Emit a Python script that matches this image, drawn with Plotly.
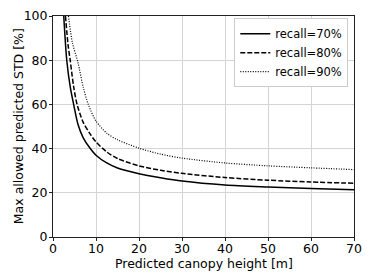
import plotly.graph_objects as go

# Data
x70 = [2.5, 3.2, 4.0, 4.8, 5.8, 7.0, 8.5, 10, 12.5, 15, 20, 25, 30, 40, 50, 60, 70]
y70 = [100, 80, 68, 60, 51, 45, 40.5, 37, 33.5, 31.2, 28.6, 26.8, 25.3, 23.5, 22.6, 21.9, 21.4]

x80 = [2.9, 3.5, 4.0, 4.8, 5.6, 7.0, 8.5, 10, 12.5, 15, 20, 25, 30, 40, 50, 60, 70]
y80 = [100, 87, 80, 68, 60, 52, 47, 43, 38.5, 35.5, 32.2, 30.2, 28.8, 26.9, 25.7, 24.9, 24.3]

x90 = [3.6, 4.5, 5.8, 7.0, 8.2, 10, 12.5, 15, 20, 25, 30, 40, 50, 60, 70]
y90 = [100, 88, 79, 68, 60, 52.5, 47, 44, 40.2, 37.5, 35.7, 33.5, 32.2, 31.3, 30.5]

names = ["recall=70%", "recall=80%", "recall=90%"]
x_ticks = [0, 10, 20, 30, 40, 50, 60, 70]
y_ticks = [0, 20, 40, 60, 80, 100]
x_title = "Predicted canopy height [m]"
y_title = "Max allowed predicted STD [%]"

FONT = "DejaVu Sans"

fig = go.Figure()
fig.add_trace(go.Scatter(x=x70, y=y70, mode="lines", name=names[0],
                         line=dict(color="black", width=1.5, dash="solid", shape="spline", smoothing=0.8)))
fig.add_trace(go.Scatter(x=x80, y=y80, mode="lines", name=names[1],
                         line=dict(color="black", width=1.5, dash="5px,2px", shape="spline", smoothing=0.8)))
fig.add_trace(go.Scatter(x=x90, y=y90, mode="lines", name=names[2],
                         line=dict(color="black", width=1.2, dash="1px,1.5px", shape="spline", smoothing=0.8)))

axis_common = dict(
    showgrid=True, gridcolor="#d4d4d4", gridwidth=1,
    showline=True, linecolor="#222", linewidth=1, mirror=True,
    ticks="outside", ticklen=3, tickcolor="#222", zeroline=False,
    tickfont=dict(family=FONT, size=12.5, color="black"),
    automargin=False,
)

# The page body adds an 8px offset, so the figure is 8px smaller and margins compensate
fig.update_layout(
    width=366, height=272,
    margin=dict(l=45, r=20, t=8, b=43),
    paper_bgcolor="white", plot_bgcolor="white",
    font=dict(family=FONT, size=12.5, color="black"),
    xaxis=dict(range=[0, 70], tickvals=x_ticks, ticklabelstandoff=-3, **axis_common),
    yaxis=dict(range=[0, 100], tickvals=y_ticks, ticklabelstandoff=-1, **axis_common),
    legend=dict(x=0.981, y=0.99, xanchor="right", yanchor="top",
                bgcolor="white", bordercolor="#cccccc", borderwidth=1,
                font=dict(family=FONT, size=11.5), tracegroupgap=0,
                itemwidth=30),
    showlegend=True,
    annotations=[
        dict(text=x_title, xref="paper", yref="paper", x=0.5, y=-0.122,
             xanchor="center", yanchor="middle", showarrow=False,
             font=dict(family=FONT, size=12.5, color="black")),
        dict(text=y_title, xref="paper", yref="paper", x=-0.114, y=0.5,
             xanchor="center", yanchor="middle", showarrow=False, textangle=-90,
             font=dict(family=FONT, size=12.5, color="black")),
    ],
)

fig.write_html("out.html")
